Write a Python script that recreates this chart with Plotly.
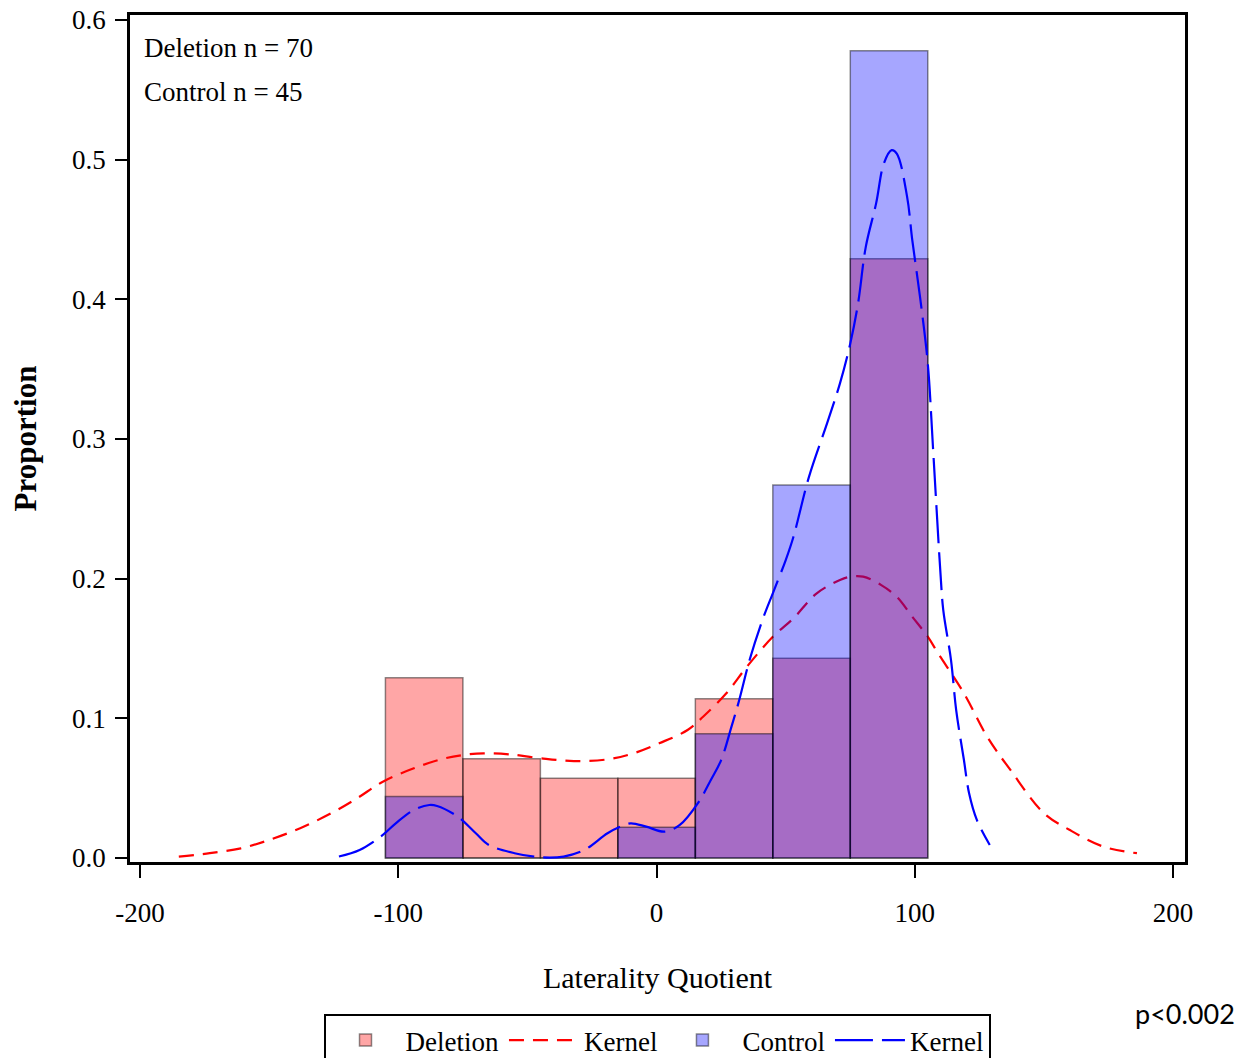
import plotly.graph_objects as go

bin_centers = [-90, -60, -30, 0, 30, 60, 90]
bin_width = 30
deletion_prop = [0.129, 0.071, 0.057, 0.057, 0.114, 0.143, 0.429]
control_prop = [0.044, 0.0, 0.0, 0.022, 0.089, 0.267, 0.578]

del_kx = [-185, -173, -161, -150, -138, -126, -116, -106, -94, -83, -75, -67, -57, -45, -32,
          -19, -9, 1, 12, 18, 27, 35, 45, 53, 62, 71, 75, 80, 87, 93, 99, 105, 109, 119,
          128, 137, 150, 160, 173, 186]
del_ky = [0.001, 0.0034, 0.0069, 0.0129, 0.0213, 0.032, 0.0427, 0.0546, 0.0642, 0.0709,
          0.0737, 0.0749, 0.0742, 0.0714, 0.0694, 0.0706, 0.0749, 0.0821, 0.0916, 0.1011,
          0.1179, 0.137, 0.1584, 0.1716, 0.1895, 0.199, 0.2014, 0.2014, 0.1954, 0.187,
          0.1727, 0.1584, 0.1465, 0.1179, 0.0868, 0.063, 0.032, 0.02, 0.0081, 0.0034]

ctl_kx = [-123, -115, -106, -101, -94, -88, -85, -77, -70, -65, -55, -45, -36, -28, -19,
          -14, -10, -4, 3, 9, 16, 21, 25, 29, 32, 36, 41, 45, 50, 53, 59, 66, 71, 75, 78,
          81, 85, 88, 91, 93, 97, 99, 102, 105, 107, 110, 111, 114, 116, 119, 121, 124, 129]
ctl_ky = [0.001, 0.0057, 0.0165, 0.0248, 0.0344, 0.0379, 0.0372, 0.0296, 0.0177, 0.0093,
          0.0034, 0.0005, 0.001, 0.0057, 0.0177, 0.0224, 0.0248, 0.0224, 0.0188, 0.0236,
          0.0392, 0.0558, 0.0701, 0.094, 0.1131, 0.1417, 0.1704, 0.1895, 0.2133, 0.23,
          0.2729, 0.3112, 0.3398, 0.3684, 0.397, 0.4376, 0.4687, 0.4973, 0.5068, 0.5044,
          0.4734, 0.4424, 0.4018, 0.3541, 0.2944, 0.2014, 0.1775, 0.1417, 0.1059, 0.0701,
          0.0463, 0.0272, 0.0093]

x_ticks = [-200, -100, 0, 100, 200]
y_ticks = [0.0, 0.1, 0.2, 0.3, 0.4, 0.5, 0.6]

SERIF = "Liberation Serif"
W, H = 1243, 1058
ML, MR, MT, MB = 130, 58, 15, 196
PW, PH = W - ML - MR, H - MT - MB
Y_RANGE = [-0.0029, 0.6036]

fig = go.Figure()
fig.add_trace(go.Bar(
    x=bin_centers, y=deletion_prop, width=bin_width, name="Deletion",
    marker=dict(color="rgba(255,0,0,0.35)", line=dict(color="rgba(0,0,0,0.45)", width=1.5)),
))
fig.add_trace(go.Scatter(
    x=del_kx, y=del_ky, mode="lines", name="Kernel", line_shape="spline",
    line=dict(color="#FF0000", width=2.2, dash="15px,9px"),
))
fig.add_trace(go.Bar(
    x=bin_centers, y=control_prop, width=bin_width, name="Control", yaxis="y2",
    marker=dict(color="rgba(0,0,255,0.35)", line=dict(color="rgba(0,0,0,0.45)", width=1.5)),
))
fig.add_trace(go.Scatter(
    x=ctl_kx, y=ctl_ky, mode="lines", name="Kernel", line_shape="spline", yaxis="y2",
    line=dict(color="#0000FF", width=2.2, dash="38px,9px"),
))

fig.update_layout(
    barmode="overlay",
    width=W, height=H,
    margin=dict(l=ML, r=MR, t=MT, b=MB, autoexpand=False),
    plot_bgcolor="white", paper_bgcolor="white",
    font=dict(family=SERIF, size=26, color="black"),
    xaxis=dict(
        range=[-203.9, 204.6], tickvals=x_ticks, ticktext=[str(v) for v in x_ticks],
        showgrid=False, zeroline=False, showline=True, linecolor="black", linewidth=2.5,
        mirror=True, ticks="outside", ticklen=13, tickwidth=2, tickcolor="black",
        ticklabelstandoff=12, tickfont=dict(family=SERIF, size=27), automargin=False,
        ticklabeloverflow="allow",
        title=dict(text="Laterality Quotient", font=dict(family=SERIF, size=30), standoff=40),
    ),
    yaxis=dict(
        range=Y_RANGE, tickvals=y_ticks, ticktext=[f"{v:.1f}" for v in y_ticks],
        showgrid=False, zeroline=False, showline=True, linecolor="black", linewidth=2.5,
        mirror=True, ticks="outside", ticklen=12, tickwidth=2, tickcolor="black",
        ticklabelstandoff=4, tickfont=dict(family=SERIF, size=27), automargin=False,
        ticklabeloverflow="allow",
        title=dict(text="<b>Proportion</b>", font=dict(family=SERIF, size=31), standoff=27),
    ),
    yaxis2=dict(range=Y_RANGE, overlaying="y", visible=False, showgrid=False,
                zeroline=False),
    showlegend=True,
    legend=dict(
        orientation="h", xref="container", yref="container",
        x=657 / W, xanchor="center", y=1 - 1014 / H, yanchor="top",
        bordercolor="black", borderwidth=2, bgcolor="white",
        font=dict(family=SERIF, size=27), itemwidth=70, tracegroupgap=0,
    ),
    annotations=[
        dict(text="Deletion n = 70", x=(142 - ML) / PW, y=(MT + PH - 48) / PH,
             xref="paper", yref="paper", xanchor="left", yanchor="middle",
             showarrow=False, font=dict(family=SERIF, size=27)),
        dict(text="Control n = 45", x=(142 - ML) / PW, y=(MT + PH - 92) / PH,
             xref="paper", yref="paper", xanchor="left", yanchor="middle",
             showarrow=False, font=dict(family=SERIF, size=27)),
        dict(text="p<0.002", x=(1237 - ML) / PW, y=(MT + PH - 1013) / PH,
             xref="paper", yref="paper", xanchor="right", yanchor="middle",
             showarrow=False, font=dict(family="Lato", size=27)),
    ],
)

fig.write_html("out.html", config={"displayModeBar": False},
               post_script="document.body.style.margin='0';")
